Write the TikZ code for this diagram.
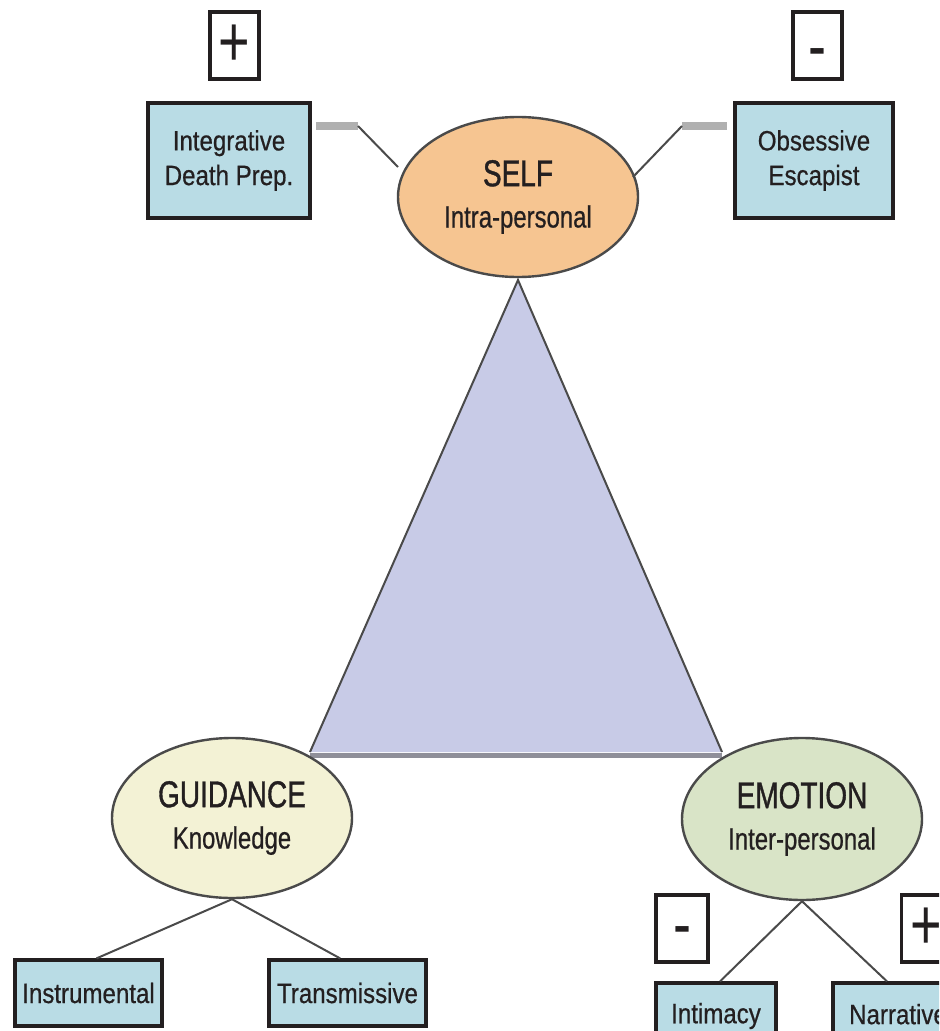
\documentclass[tikz,border=0pt]{standalone}
\usepackage{fontspec}
\setmainfont{Liberation Sans}
\newfontfamily\boxfont[FakeStretch=0.86,FakeBold=0.6]{Liberation Sans}
\newfontfamily\titlefont[FakeStretch=0.75,FakeBold=1]{Liberation Sans}
\newfontfamily\subfont[FakeStretch=0.78,FakeBold=0.6]{Liberation Sans}
\newfontfamily\signfont[FakeStretch=0.75]{Liberation Sans}
\usetikzlibrary{shapes.geometric}
\definecolor{boxblue}{HTML}{B9DCE5}
\definecolor{selfc}{HTML}{F6C591}
\definecolor{guidc}{HTML}{F3F2D5}
\definecolor{emotc}{HTML}{D9E4C7}
\definecolor{trifill}{HTML}{C8CBE7}
\definecolor{ink}{HTML}{231F20}
\definecolor{edgegray}{HTML}{4A4A4A}
\definecolor{lightline}{HTML}{B0B0B0}
\definecolor{basegray}{HTML}{8F8F99}
\tikzset{
  labelbox/.style={draw=ink, line width=2.4pt, fill=boxblue, inner sep=0pt, align=center,
    font=\boxfont\fontsize{21}{26}\selectfont, text=ink},
  signbox/.style={draw=ink, line width=2.4pt, fill=white, inner sep=0pt,
    minimum width=36.75pt, minimum height=50.25pt, font=\signfont\fontsize{54}{60}\selectfont, text=ink},
  bubble/.style={ellipse, draw=edgegray, line width=1.8pt, inner sep=0pt, align=center, text=ink,
    minimum width=180pt, minimum height=120pt, font=\subfont\fontsize{23}{31}\selectfont},
  conn/.style={draw=edgegray, line width=1.5pt},
  stub/.style={draw=lightline, line width=6pt},
}
\newcommand{\ttl}[1]{{\titlefont\fontsize{28}{31}\selectfont #1}}
\newcommand{\sbt}[1]{{\subfont\fontsize{23}{31}\selectfont #1}}
\newcommand{\minussign}[1]{\raisebox{#1}[0pt][0pt]{-}}
\begin{document}
\begin{tikzpicture}[x=0.75pt,y=-0.75pt]
\useasboundingbox (0,0) rectangle (939,1031);
\clip (0,0) rectangle (939,1031);

% triangle
\coordinate (apex) at (518,280);
\coordinate (bl) at (310,752);
\coordinate (br) at (722,752);
\fill[trifill] (apex) -- (bl) -- (br) -- cycle;
\draw[conn] (bl) -- (apex) -- (br);
\draw[draw=basegray, line width=4pt] ([yshift=-2.5pt]bl) -- ([yshift=-2.5pt]br);

% top row
\node[signbox] (plusTL) at (234.5,45.5) {+};
\node[signbox] (minusTR) at (817.5,45.5) {\minussign{-19pt}};
\node[labelbox, minimum width=121.5pt, minimum height=86.25pt] (integ) at (229,160.5) {Integrative\\Death Prep.};
\node[labelbox, minimum width=118.5pt, minimum height=86.25pt] (obses) at (814,160.5) {Obsessive\\Escapist};

\node[bubble, fill=selfc] (self) at (518,197) {\ttl{SELF}\\\sbt{Intra-personal}};

% connectors top
\coordinate (kL1) at (316,126);
\coordinate (kL2) at (358,126);
\coordinate (kL3) at (398,167);
\coordinate (kR1) at (727,126);
\coordinate (kR2) at (682,126);
\coordinate (kR3) at (633,177);
\draw[stub] (kL1) -- (kL2);
\draw[conn] (kL2) -- (kL3);
\draw[stub] (kR1) -- (kR2);
\draw[conn] (kR2) -- (kR3);

% bottom left
\node[bubble, fill=guidc] (guid) at (232,818) {\ttl{GUIDANCE}\\\sbt{Knowledge}};
\node[labelbox, minimum width=110.25pt, minimum height=49.5pt] (instr) at (88.5,993) {Instrumental};
\node[labelbox, minimum width=117.75pt, minimum height=49.5pt] (trans) at (347.5,993) {Transmissive};
\draw[conn] (guid.south) -- ([xshift=6pt]instr.north);
\draw[conn] (guid.south) -- ([xshift=-5.5pt]trans.north);

% bottom right
\node[bubble, fill=emotc, minimum height=121.5pt] (emot) at (802,819) {\ttl{EMOTION}\\\sbt{Inter-personal}};
\node[signbox, minimum width=39pt] (minusBR) at (682,928.5) {\minussign{-15pt}};
\node[signbox] (plusBR) at (926,928.5) {+};
\node[labelbox, minimum width=90pt, minimum height=49.5pt] (intim) at (716,1016) {\raisebox{3pt}{Intimacy}};
\node[labelbox, minimum width=97.5pt, minimum height=49.5pt] (narr) at (898,1016) {\raisebox{3pt}{Narrative}};
\draw[conn] (emot.south) -- ([xshift=3pt]intim.north);
\draw[conn] (emot.south) -- ([xshift=-8.25pt]narr.north);
\end{tikzpicture}
\end{document}
